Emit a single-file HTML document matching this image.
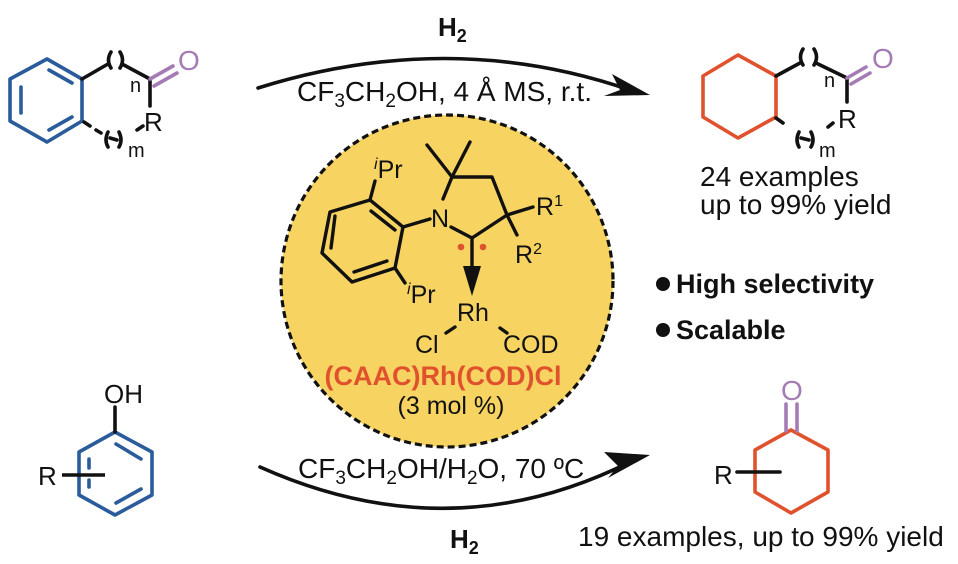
<!DOCTYPE html>
<html><head><meta charset="utf-8"><style>
html,body{margin:0;padding:0;background:#fff;}
svg{display:block;font-family:"Liberation Sans",Arial,sans-serif;}
</style></head><body>
<svg width="958" height="564" viewBox="0 0 958 564" xmlns="http://www.w3.org/2000/svg">
<!-- catalyst circle -->
<circle cx="447" cy="281" r="166" fill="#f7d462" stroke="#111" stroke-width="3.2" stroke-dasharray="7 4"/>

<g fill="none" stroke-linecap="round" stroke-linejoin="round">
<!-- top-left benzene -->
<g stroke="#2a5b9b" stroke-width="3.6">
<polygon points="47,59 82,79 82,121 47,142 10,121 10,79"/>
<line x1="21" y1="87" x2="21" y2="113"/>
<line x1="49" y1="70" x2="72" y2="83"/>
<line x1="49" y1="130" x2="72" y2="117"/>
</g>
<g stroke="#111" stroke-width="3.6">
<path d="M82,79 L108,64"/>
<path d="M122,64 L150,79 L150,106"/>
<path d="M111,52 Q106,60 111,68 M120,52 Q125,60 120,68"/>
<path d="M84,122 L90,126 M96,130 L101,133"/>
<path d="M108,132 Q104,140 108,147 M119,132 Q123,140 119,147 M110,138 L117,140"/>
<path d="M137,130 L143,126"/>
</g>
<g stroke="#a57bb5" stroke-width="3.6">
<line x1="150" y1="79" x2="173" y2="66"/>
<line x1="154" y1="86" x2="177" y2="73"/>
</g>

<!-- top-right product -->
<g stroke="#e0522e" stroke-width="3.6">
<polygon points="738,55 776,76 776,117 738,138 703,117 703,76"/>
</g>
<g stroke="#111" stroke-width="3.6">
<path d="M776,76 L800,63"/>
<path d="M816,63 L847,78 L847,102"/>
<path d="M803,49 Q798,57 803,65 M814,49 Q819,57 814,65"/>
<path d="M776,118 L783,123"/>
<path d="M799,132 Q795,140 799,147 M811,132 Q815,140 811,147 M801,138 L809,140"/>
<path d="M828,127 L833,123"/>
</g>
<g stroke="#a57bb5" stroke-width="3.6">
<line x1="847" y1="78" x2="866" y2="67"/>
<line x1="851" y1="84" x2="870" y2="73"/>
</g>

<!-- bottom-left phenol -->
<g stroke="#2a5b9b" stroke-width="3.6">
<polygon points="115,432 152,452 152,495 115,515 79,495 79,452"/>
<line x1="116" y1="444" x2="141" y2="459"/>
<line x1="116" y1="503" x2="141" y2="489"/>
<line x1="89" y1="459" x2="89" y2="468"/>
<line x1="89" y1="480" x2="89" y2="487"/>
</g>
<g stroke="#111" stroke-width="3.6">
<line x1="115" y1="407" x2="115" y2="432"/>
<line x1="62" y1="475" x2="105" y2="475" stroke-linecap="butt"/>
</g>

<!-- bottom-right cyclohexanone -->
<g stroke="#e0522e" stroke-width="3.6">
<polygon points="791,430 828,450 828,492 791,513 755,492 755,450"/>
</g>
<g stroke="#a57bb5" stroke-width="3.6">
<line x1="786" y1="404" x2="786" y2="431"/>
<line x1="797" y1="404" x2="797" y2="431"/>
</g>
<line x1="737" y1="472" x2="780" y2="472" stroke="#111" stroke-width="3.6"/>

<!-- arrows -->
<path d="M258,88 Q450,28 630,90" stroke="#111" stroke-width="3.6"/>
<path d="M260,467 Q450,552 630,462" stroke="#111" stroke-width="3.6"/>

<!-- catalyst -->
<g stroke="#111" stroke-width="3.4">
<polygon points="370,200 403,227 395,268 352,282 322,253 330,212"/>
<line x1="335" y1="216" x2="331" y2="248"/>
<line x1="371" y1="211" x2="395" y2="230"/>
<line x1="354" y1="272" x2="387" y2="261"/>
<line x1="370" y1="200" x2="375" y2="181"/>
<line x1="395" y1="268" x2="405" y2="283"/>
<line x1="403" y1="227" x2="430" y2="219"/>
<path d="M443,199 L452,177 L492,177 L507,215 L472,238 L451,227"/>
<line x1="452" y1="177" x2="427" y2="145"/>
<line x1="452" y1="177" x2="470" y2="142"/>
<line x1="507" y1="215" x2="533" y2="207"/>
<line x1="507" y1="215" x2="517" y2="235"/>
<line x1="472" y1="238" x2="472" y2="272"/>
<line x1="455" y1="327" x2="446" y2="333"/>
<line x1="500" y1="328" x2="507" y2="333"/>
</g>
</g>
<!-- arrowheads -->
<polygon points="650,95 612,74 620,90 604,96" fill="#111"/>
<polygon points="650,455 604,452 618,466 608,478" fill="#111"/>
<polygon points="463,266 481,266 472,296" fill="#111"/>
<circle cx="461" cy="247" r="3.3" fill="#e0522e"/>
<circle cx="483" cy="247" r="3.3" fill="#e0522e"/>

<!-- text -->
<g fill="#111" font-size="28">
<text x="178" y="70" fill="#a57bb5" font-size="28">O</text>
<text x="130" y="92" font-size="20">n</text>
<text x="144" y="131" font-size="26">R</text>
<text x="128" y="157" font-size="20">m</text>

<text x="872" y="68" fill="#a57bb5" font-size="28">O</text>
<text x="824" y="87" font-size="20">n</text>
<text x="838" y="128" font-size="26">R</text>
<text x="819" y="157" font-size="20">m</text>
<text x="700" y="186">24 examples</text>
<text x="700" y="214">up to 99% yield</text>

<text x="104" y="403" font-size="26">OH</text>
<text x="38" y="485" font-size="26">R</text>
<text x="781" y="400" fill="#a57bb5" font-size="28">O</text>
<text x="714" y="484" font-size="26">R</text>
<text x="578" y="546">19 examples, up to 99% yield</text>

<text x="438" y="36" font-weight="bold" font-size="26">H<tspan font-size="18" dy="6">2</tspan></text>
<text x="297" y="101">CF<tspan font-size="19" dy="6">3</tspan><tspan dy="-6">CH</tspan><tspan font-size="19" dy="6">2</tspan><tspan dy="-6">OH, 4 Å MS, r.t.</tspan></text>
<text x="298" y="478">CF<tspan font-size="19" dy="6">3</tspan><tspan dy="-6">CH</tspan><tspan font-size="19" dy="6">2</tspan><tspan dy="-6">OH/H</tspan><tspan font-size="19" dy="6">2</tspan><tspan dy="-6">O, 70 ºC</tspan></text>
<text x="450" y="548" font-weight="bold" font-size="26">H<tspan font-size="18" dy="6">2</tspan></text>

<circle cx="663" cy="284" r="7" fill="#111"/>
<text x="676" y="293" font-weight="bold" font-size="27">High selectivity</text>
<circle cx="663" cy="330" r="7" fill="#111"/>
<text x="676" y="339" font-weight="bold" font-size="27">Scalable</text>

<text x="374" y="178" font-size="25"><tspan font-style="italic" font-size="16" dy="-9">i</tspan><tspan dy="9">Pr</tspan></text>
<text x="431" y="227" font-size="25">N</text>
<text x="536" y="215" font-size="25">R<tspan font-size="16" dy="-9">1</tspan></text>
<text x="515" y="263" font-size="25">R<tspan font-size="16" dy="-9">2</tspan></text>
<text x="407" y="303" font-size="25"><tspan font-style="italic" font-size="16" dy="-9">i</tspan><tspan dy="9">Pr</tspan></text>
<text x="457" y="321" font-size="25">Rh</text>
<text x="415" y="353" font-size="25">Cl</text>
<text x="503" y="353" font-size="25">COD</text>
<text x="443" y="385" font-size="27" font-weight="bold" fill="#e0522e" text-anchor="middle">(CAAC)Rh(COD)Cl</text>
<text x="451" y="414" font-size="25" text-anchor="middle">(3 mol %)</text>
</g>
</svg>
</body></html>
